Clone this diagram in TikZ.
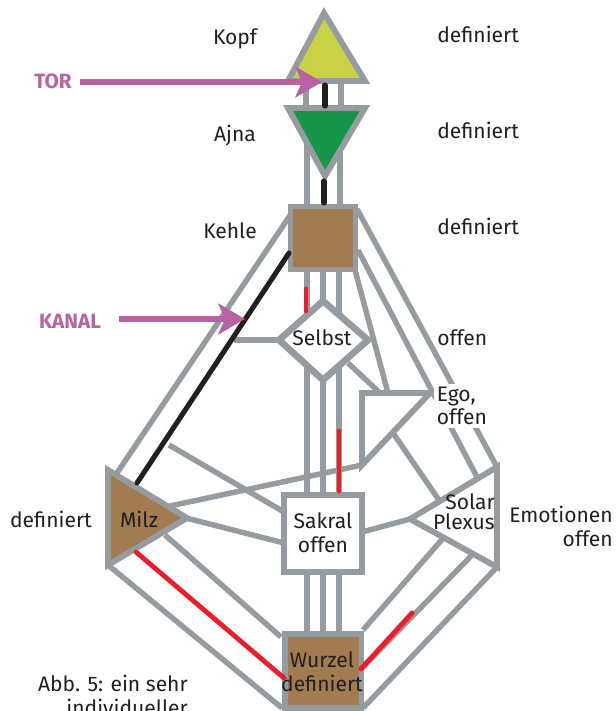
\documentclass[tikz,border=0pt]{standalone}
\usepackage{xcolor}
\usepackage{fontspec}
\setmainfont{Fira Sans}
\usetikzlibrary{arrows.meta,calc}

\definecolor{chanGrey}{HTML}{969B9F}
\definecolor{torPurple}{HTML}{B862A3}
\definecolor{kopfYellow}{HTML}{C9D244}
\definecolor{ajnaGreen}{HTML}{16954B}
\definecolor{centerBrown}{HTML}{A37B50}
\definecolor{chanRed}{HTML}{EE1C2B}
\definecolor{chanBlack}{HTML}{231F20}

\tikzset{
    chan/.style={draw=chanGrey, line width=4.1pt},
    center/.style={draw=chanGrey, line width=4.4pt, miter limit=10},
    redgate/.style={draw=chanRed, line width=3.6pt, line cap=round},
    blackgate/.style={draw=chanBlack, line width=3.8pt, line cap=round},
    pointer/.style={draw=torPurple, line width=4pt, -{Stealth[length=20pt, width=23pt, inset=5pt]}},
    lbl/.style={font=\fontsize{15.8}{18}\selectfont, text=chanBlack, inner sep=0pt},
    purplelbl/.style={font=\fontsize{15.5}{18}\selectfont\bfseries, text=torPurple, inner sep=0pt}
}

\begin{document}
\begin{tikzpicture}[x=0.75pt, y=-0.75pt]
    \useasboundingbox (0,0) rectangle (616,711);

    % Corners of the centers
    \coordinate (kopfT) at (324,13);
    \coordinate (kopfL) at (288,81);
    \coordinate (kopfR) at (365,81);
    \coordinate (ajnaL) at (288,108);
    \coordinate (ajnaR) at (365,108);
    \coordinate (ajnaB) at (325,176);
    \coordinate (selbstT) at (323,301);
    \coordinate (selbstL) at (279,340);
    \coordinate (selbstR) at (368,340);
    \coordinate (selbstB) at (323,380);
    \coordinate (egoA) at (362,393);
    \coordinate (egoB) at (430,393);
    \coordinate (egoC) at (362,465);
    \coordinate (milzT) at (108,470);
    \coordinate (milzB) at (108,565);
    \coordinate (milzR) at (187,518);
    \coordinate (solarT) at (497,467);
    \coordinate (solarB) at (497,567);
    \coordinate (solarL) at (410,519);

    % Channel ends
    \coordinate (kehleA) at (291,214);
    \coordinate (kehleB) at (357,209);
    \coordinate (kehleC) at (358,250);
    \coordinate (kehleD) at (355,270);
    \coordinate (milzA) at (115,476);
    \coordinate (milzC) at (165,535);
    \coordinate (wurzelA) at (282,708);
    \coordinate (wurzelB) at (281,637);
    \coordinate (wurzelC) at (363,708);
    \coordinate (wurzelD) at (363,630);
    \coordinate (wurzelE) at (361,669);
    \coordinate (solarA) at (477,477);
    \coordinate (solarC) at (445,536);
    \coordinate (solarD) at (473,554);
    \coordinate (solarE) at (441,503);
    \coordinate (egoD) at (393,433);
    \coordinate (egoE) at (380,393);
    \coordinate (egoF) at (388,393);
    \coordinate (selbstC) at (348,363);
    \coordinate (selbstD) at (234,340);
    \coordinate (milzD) at (170,506);
    \coordinate (milzE) at (169,445);
    \coordinate (milzF) at (186,518);
    \coordinate (sakralA) at (284,512);
    \coordinate (sakralB) at (284,543);
    \coordinate (sakralC) at (362,532);

    % Grey channels, verticals
    \foreach \xpos in {307,342} {
        \draw[chan] (\xpos-1,81) -- (\xpos-1,108);
    }
    \foreach \xpos in {307,340} {
        \draw[chan] (\xpos,140) -- (\xpos,207);
    }
    \foreach \xpos in {307,323,339} {
        \draw[chan] (\xpos,269) -- (\xpos,330);
        \draw[chan] (\xpos,350) -- (\xpos,495);
        \draw[chan] (\xpos,572) -- (\xpos,634);
    }

    % Grey channels, diagonals
    \draw[chan] (milzA) -- (kehleA);
    \draw[chan] (kehleB) -- (solarT);
    \draw[chan] (kehleC) -- (solarA);
    \draw[chan] (kehleD) -- (egoF);
    \draw[chan] (selbstC) -- (egoE);
    \draw[chan] (selbstD) -- (selbstL);
    \draw[chan] (milzD) -- (egoC);
    \draw[chan] (milzE) -- (sakralA);
    \draw[chan] (milzF) -- (sakralB);
    \draw[chan] (sakralC) -- (solarL);
    \draw[chan] (egoD) -- (solarE);
    \draw[chan] (milzB) -- (wurzelA);
    \draw[chan] (milzC) -- (wurzelB);
    \draw[chan] (solarB) -- (wurzelC);
    \draw[chan] (solarC) -- (wurzelD);
    \draw[chan] (solarD) -- (wurzelE);

    % Centers
    \draw[center, fill=kopfYellow] (kopfT) -- (kopfL) -- (kopfR) -- cycle;
    \draw[center, fill=ajnaGreen] (ajnaL) -- (ajnaR) -- (ajnaB) -- cycle;
    \draw[center, fill=centerBrown] (290.5,206.5) rectangle (355.5,269.5);
    \draw[center, fill=white, line width=5pt] (selbstT) -- (selbstR) -- (selbstB) -- (selbstL) -- cycle;
    \draw[center, fill=white] (egoA) -- (egoB) -- (egoC) -- cycle;
    \draw[center, fill=centerBrown] (milzT) -- (milzR) -- (milzB) -- cycle;
    \draw[center, fill=white] (284,495) rectangle (362,572);
    \draw[center, fill=white] (solarT) -- (solarB) -- (solarL) -- cycle;
    \draw[center, fill=centerBrown] (285,634) rectangle (361.5,708);

    % Activated channels
    \draw[blackgate] (325,85) -- (325,106);
    \draw[blackgate] (324,181) -- (324,203);
    \draw[blackgate] (289,253) -- (137,483);
    \draw[redgate] (306,289) -- (306,311);
    \draw[redgate] (339,431) -- (339,491);
    \draw[redgate] (136,552) -- (284,678);
    \draw[redgate] (412,613) -- (361,669);

    % Pointers
    \node[purplelbl] (tor) at (53,81) {TOR};
    \node[purplelbl] (kanal) at (70,321) {KANAL};
    \coordinate (torTip) at (322,82);
    \coordinate (kanalTip) at (245,319);
    \draw[pointer] (80,82) -- (torTip);
    \draw[pointer] (119,319) -- (kanalTip);

    % Labels
    \node[lbl] (kopf) at (235,39) {Kopf};
    \node[lbl] (ajna) at (235,136) {Ajna};
    \node[lbl] (kehle) at (230,231) {Kehle};
    \node[lbl, anchor=west] (kopfdef) at (437,34) {definiert};
    \node[lbl, anchor=west] (ajnadef) at (437,130) {definiert};
    \node[lbl, anchor=west] (kehledef) at (437,226) {definiert};
    \node[lbl] (selbst) at (322,338) {Selbst};
    \node[lbl, anchor=west] (selbstopen) at (437,338) {offen};
    \node[lbl, fill=white, inner sep=2pt, align=left, anchor=north west, font=\fontsize{15.8}{17.5}\selectfont] (ego) at (434,384) {Ego,\\offen};
    \node[lbl] (milzdef) at (51,519) {definiert};
    \node[lbl] (milz) at (139,519) {Milz};
    \node[lbl, align=center, font=\fontsize{15.8}{18}\selectfont] (sakral) at (323,533) {Sakral\\offen};
    \node[lbl, align=right, anchor=east, font=\fontsize{15.8}{15}\selectfont] (solar) at (495,512) {Solar\\Plexus};
    \node[lbl, align=right, anchor=east, font=\fontsize{15.8}{18}\selectfont] (emotion) at (613,526) {Emotionen\\offen};
    \node[lbl, align=center, font=\fontsize{15.8}{18}\selectfont] (wurzel) at (322,672) {Wurzel\\definiert};
    \node[lbl, align=right, anchor=north east, font=\fontsize{15.8}{18}\selectfont] (caption) at (188,675) {Abb. 5: ein sehr\\individueller};
\end{tikzpicture}
\end{document}
